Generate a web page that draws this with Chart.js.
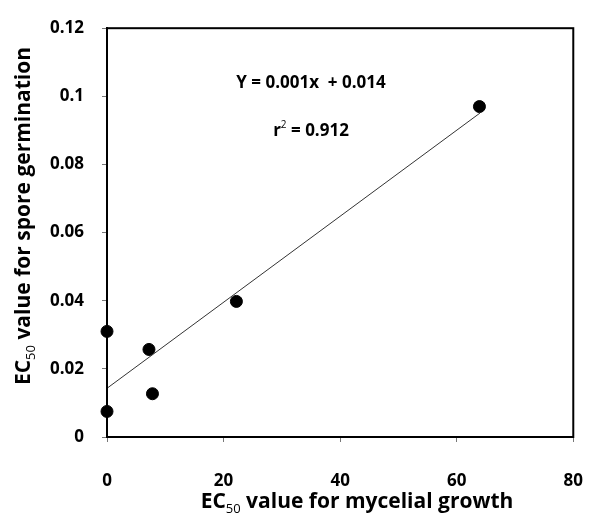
<!DOCTYPE html>
<html>
<head>
<meta charset="utf-8">
<script src="https://cdn.jsdelivr.net/npm/chart.js@4"></script>
<style>
  html, body { margin: 0; padding: 0; background: #fff; }
  #wrap { width: 612px; height: 514px; }
</style>
</head>
<body>
<div id="wrap"><canvas id="ec50Chart" width="612" height="514"></canvas></div>
<script>
// EC50 values
const mycelialEC50 = [0, 0, 7.2, 7.8, 22.2, 63.9];
const sporeEC50 = [0.031, 0.0075, 0.0257, 0.0127, 0.0398, 0.097];

// regression line endpoints (over the data range)
const trendX = [0, 64];
const trendY = [0.0143, 0.0951];

const xTicks = [0, 20, 40, 60, 80];
const yTicks = [0, 0.02, 0.04, 0.06, 0.08, 0.1, 0.12];

const equationText = "Y = 0.001x  + 0.014";
const r2Base = "r";
const r2Rest = " = 0.912";

const FONT = "'Open Sans', 'Noto Sans', sans-serif";

// draws a label like EC50 with a subscript, centred on x
function drawSubLabel(ctx, x, y, size, main, sub, rest) {
  ctx.save();
  const big = `bold ${size}px ${FONT}`;
  const small = `${Math.round(size * 0.62)}px ${FONT}`;
  ctx.font = big;
  const w1 = ctx.measureText(main).width;
  const w3 = ctx.measureText(rest).width;
  ctx.font = small;
  const w2 = ctx.measureText(sub).width;
  let cx = x - (w1 + w2 + w3) / 2;
  ctx.textBaseline = "alphabetic";
  ctx.textAlign = "left";
  ctx.fillStyle = "#000";
  ctx.font = big;
  ctx.fillText(main, cx, y);
  cx += w1;
  ctx.font = small;
  ctx.fillText(sub, cx, y + size * 0.22);
  cx += w2;
  ctx.font = big;
  ctx.fillText(rest, cx, y);
  ctx.restore();
}

const annotationPlugin = {
  id: "annotations",
  afterDraw(chart) {
    const { ctx, chartArea } = chart;
    // frame around the plot
    ctx.save();
    ctx.strokeStyle = "#000";
    ctx.lineWidth = 2;
    ctx.strokeRect(chartArea.left, chartArea.top,
      chartArea.right - chartArea.left, chartArea.bottom - chartArea.top);
    ctx.restore();

    // equation text
    ctx.save();
    ctx.fillStyle = "#000";
    ctx.font = `bold 17px ${FONT}`;
    ctx.textAlign = "center";
    ctx.textBaseline = "middle";
    ctx.fillText(equationText, 311, 83);

    // r^2 line
    const w1 = ctx.measureText(r2Base).width;
    const w3 = ctx.measureText(r2Rest).width;
    ctx.font = `10px ${FONT}`;
    const w2 = ctx.measureText("2").width;
    let cx = 311 - (w1 + w2 + w3) / 2;
    ctx.textAlign = "left";
    ctx.font = `bold 17px ${FONT}`;
    ctx.fillText(r2Base, cx, 131);
    cx += w1;
    ctx.font = `10px ${FONT}`;
    ctx.fillText("2", cx, 125);
    cx += w2;
    ctx.font = `bold 17px ${FONT}`;
    ctx.fillText(r2Rest, cx, 131);
    ctx.restore();

    // x axis title
    drawSubLabel(ctx, 357, 508, 21, "EC", "50", " value for mycelial growth");

    // y axis title (rotated)
    ctx.save();
    ctx.translate(30, 216);
    ctx.rotate(-Math.PI / 2);
    drawSubLabel(ctx, 0, 0, 21, "EC", "50", " value for spore germination");
    ctx.restore();
  },
};

const ctx = document.getElementById("ec50Chart").getContext("2d");
new Chart(ctx, {
  type: "scatter",
  data: {
    datasets: [
      {
        label: "trend",
        type: "line",
        data: trendX.map((x, i) => ({ x: x, y: trendY[i] })),
        borderColor: "#333",
        borderWidth: 1,
        pointRadius: 0,
        fill: false,
        clip: false,
      },
      {
        label: "EC50",
        data: mycelialEC50.map((x, i) => ({ x: x, y: sporeEC50[i] })),
        backgroundColor: "#000",
        borderColor: "#000",
        pointRadius: 6,
        pointHoverRadius: 6,
        clip: false,
      },
    ],
  },
  options: {
    responsive: false,
    animation: false,
    events: [],
    layout: { padding: { left: 0, top: 16, right: 22, bottom: 0 } },
    plugins: {
      legend: { display: false },
      tooltip: { enabled: false },
    },
    scales: {
      x: {
        type: "linear",
        min: 0,
        max: 80,
        afterBuildTicks: (scale) => {
          scale.ticks = xTicks.map((v) => ({ value: v }));
        },
        afterFit: (scale) => {
          scale.height = 77;
        },
        grid: {
          drawOnChartArea: false,
          drawTicks: true,
          tickLength: 5,
          color: "#777",
        },
        border: { display: true, color: "#000", width: 2 },
        ticks: {
          color: "#000",
          padding: 29,
          maxRotation: 0,
          font: { family: FONT, size: 17, weight: "bold" },
        },
      },
      y: {
        type: "linear",
        min: 0,
        max: 0.12,
        afterBuildTicks: (scale) => {
          scale.ticks = yTicks.map((v) => ({ value: v }));
        },
        afterFit: (scale) => {
          scale.width = 107;
        },
        grid: {
          drawOnChartArea: false,
          drawTicks: true,
          tickLength: 5,
          color: "#777",
        },
        border: { display: true, color: "#000", width: 2 },
        ticks: {
          color: "#000",
          padding: 18,
          callback: (v) => String(+Number(v).toFixed(2)),
          font: { family: FONT, size: 17, weight: "bold" },
        },
      },
    },
  },
  plugins: [annotationPlugin],
});
</script>
</body>
</html>
